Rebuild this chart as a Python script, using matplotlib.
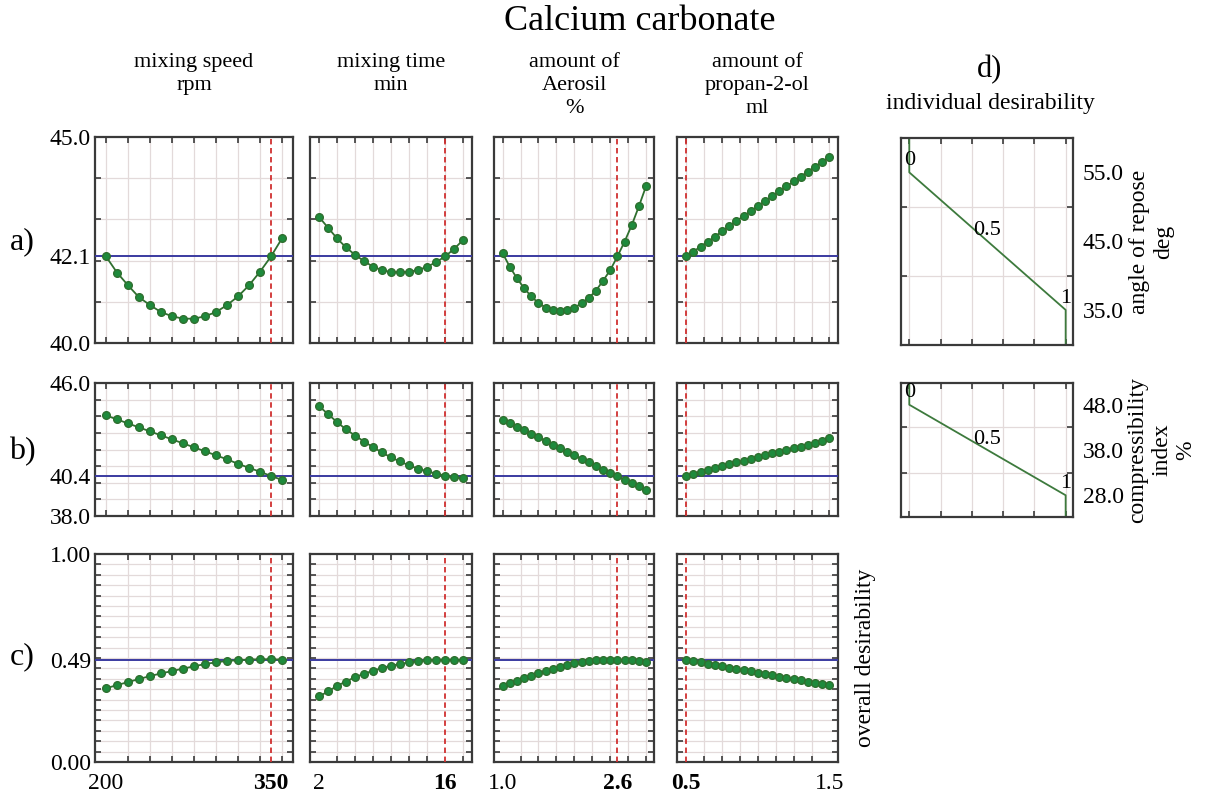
import matplotlib.pyplot as plt
import numpy as np

plt.rcParams['font.family'] = ['Liberation Serif', 'DejaVu Serif']

# factor levels
speed = [200, 210, 220, 230, 240, 250, 260, 270, 280, 290, 300, 310, 320, 330, 340, 350, 360]
time_min = [2, 3, 4, 5, 6, 7, 8, 9, 10, 11, 12, 13, 14, 15, 16, 17, 18]
aerosil = [1.0, 1.1, 1.2, 1.3, 1.4, 1.5, 1.6, 1.7, 1.8, 1.9, 2.0,
           2.1, 2.2, 2.3, 2.4, 2.5, 2.6, 2.7, 2.8, 2.9, 3.0]
propanol = [0.5, 0.55, 0.6, 0.65, 0.7, 0.75, 0.8, 0.85, 0.9, 0.95, 1.0,
            1.05, 1.1, 1.15, 1.2, 1.25, 1.3, 1.35, 1.4, 1.45, 1.5]

# a) angle of repose
angle_speed = [42.10, 41.71, 41.40, 41.11, 40.92, 40.75, 40.65, 40.59, 40.59,
               40.65, 40.75, 40.92, 41.13, 41.40, 41.73, 42.10, 42.54]
angle_time = [43.06, 42.80, 42.54, 42.32, 42.14, 41.99, 41.85, 41.77, 41.72,
              41.72, 41.73, 41.77, 41.85, 41.96, 42.10, 42.28, 42.50]
angle_aerosil = [42.18, 41.85, 41.57, 41.33, 41.13, 40.97, 40.86, 40.79, 40.77,
                 40.79, 40.85, 40.97, 41.09, 41.27, 41.51, 41.77, 42.10, 42.46,
                 42.86, 43.32, 43.81]
angle_propanol = [42.10, 42.22, 42.34, 42.46, 42.58, 42.71, 42.83, 42.96, 43.08,
                  43.20, 43.32, 43.44, 43.56, 43.68, 43.80, 43.92, 44.04, 44.16,
                  44.28, 44.40, 44.52]

# b) compressibility index
comp_speed = [44.05, 43.81, 43.57, 43.33, 43.09, 42.85, 42.61, 42.37, 42.13,
              41.89, 41.65, 41.41, 41.14, 40.90, 40.66, 40.41, 40.17]
comp_time = [44.61, 44.13, 43.65, 43.21, 42.84, 42.48, 42.14, 41.82, 41.52,
             41.28, 41.04, 40.85, 40.69, 40.55, 40.43, 40.33, 40.27]
comp_aerosil = [43.77, 43.57, 43.37, 43.17, 42.96, 42.74, 42.52, 42.30, 42.08,
                41.86, 41.64, 41.44, 41.22, 41.00, 40.79, 40.59, 40.39, 40.19,
                39.99, 39.79, 39.57]
comp_propanol = [40.43, 40.55, 40.67, 40.77, 40.89, 40.99, 41.10, 41.22, 41.32,
                 41.42, 41.54, 41.66, 41.76, 41.86, 41.98, 42.08, 42.18, 42.30,
                 42.40, 42.52, 42.68]

# c) overall desirability
des_speed = [0.354, 0.370, 0.384, 0.399, 0.413, 0.426, 0.437, 0.449, 0.460,
             0.471, 0.479, 0.486, 0.489, 0.492, 0.494, 0.494, 0.492]
des_time = [0.315, 0.339, 0.366, 0.387, 0.408, 0.424, 0.439, 0.452, 0.463,
            0.471, 0.479, 0.484, 0.489, 0.492, 0.492, 0.492, 0.490]
des_aerosil = [0.365, 0.378, 0.391, 0.402, 0.415, 0.426, 0.437, 0.449, 0.458,
               0.466, 0.474, 0.481, 0.486, 0.489, 0.490, 0.492, 0.492, 0.490,
               0.489, 0.486, 0.481]
des_propanol = [0.492, 0.486, 0.479, 0.473, 0.466, 0.460, 0.453, 0.447, 0.441,
                0.436, 0.429, 0.423, 0.416, 0.410, 0.405, 0.399, 0.392, 0.386,
                0.381, 0.375, 0.370]

# optimum settings / predicted values
optimum = [350, 16, 2.6, 0.5]
predicted = [42.1, 40.4, 0.492]

col_titles = ['mixing speed\nrpm', 'mixing time\nmin', 'amount of\nAerosil\n%',
              'amount of\npropan-2-ol\nml']
xlevels = [speed, time_min, aerosil, propanol]
xlims = [(190, 370), (1, 19), (0.88, 3.11), (0.435, 1.56)]
xgrids = [np.arange(200, 361, 20), np.arange(2, 19, 2),
          np.arange(1.0, 3.01, 0.25), np.arange(0.5, 1.51, 0.125)]
xticklabels = [([200, 350], ['200', '350']), ([2, 16], ['2', '16']),
               ([1.0, 2.6], ['1.0', '2.6']), ([0.5, 1.5], ['0.5', '1.5'])]
bold_idx = [1, 1, 1, 0]

rows = [[angle_speed, angle_time, angle_aerosil, angle_propanol],
        [comp_speed, comp_time, comp_aerosil, comp_propanol],
        [des_speed, des_time, des_aerosil, des_propanol]]
ylims = [(40.0, 45.0), (38.0, 46.0), (0.0, 1.0)]
ygrids = [np.arange(41, 45, 1), np.arange(39, 46, 1), np.arange(0.05, 1.0, 0.05)]
yticks = [([40.0, 42.1, 45.0], ['40.0', '42.1', '45.0']),
          ([38.0, 40.4, 46.0], ['38.0', '40.4', '46.0']),
          ([0.0, 0.492, 1.0], ['0.00', '0.49', '1.00'])]
row_names = ['a)', 'b)', 'c)']

W, H = 1218, 798
def box(x0, x1, y0, y1):
    return [x0 / W, 1 - y1 / H, (x1 - x0) / W, (y1 - y0) / H]

col_px = [(95, 293), (310, 472), (494, 654), (677, 838)]
row_px = [(137, 343), (383, 516), (554, 762)]

grid_color = '#e3dada'
frame_color = '#3a3a3a'
line_green = '#2f6f2f'
dot_green = '#1e8a3c'
tick_fs = 17

def style_axes(ax):
    for s in ax.spines.values():
        s.set_color(frame_color)
        s.set_linewidth(1.6)
    ax.grid(which='minor', color=grid_color, linewidth=0.9)
    ax.grid(which='major', visible=False)
    ax.tick_params(which='minor', direction='in', length=4, width=1.2,
                   color=frame_color, top=True, right=True, bottom=True, left=True)
    ax.tick_params(which='major', length=0, labelsize=tick_fs)
    ax.set_axisbelow(True)

fig = plt.figure(figsize=(12.18, 7.98), dpi=100)

for r in range(3):
    for c in range(4):
        ax = fig.add_axes(box(col_px[c][0], col_px[c][1], row_px[r][0], row_px[r][1]))
        ax.plot(xlevels[c], rows[r][c], '-o', color=line_green, lw=1.3,
                markersize=5.5, markerfacecolor=dot_green, markeredgecolor=line_green,
                zorder=4)
        ax.axhline(predicted[r], color='#3a3aa0', lw=1.4, zorder=3)
        ax.axvline(optimum[c], color='#d03030', lw=1.3, ls=(0, (3, 2)), zorder=3)
        ax.set_xlim(xlims[c])
        ax.set_ylim(ylims[r])
        style_axes(ax)
        if c == 0:
            ax.set_yticks(yticks[r][0], yticks[r][1])
            ax.tick_params(axis='y', which='major', pad=3)
        else:
            ax.set_yticks([])
        if r == 2:
            ax.set_xticks(xticklabels[c][0], xticklabels[c][1])
            ax.tick_params(axis='x', which='major', pad=8)
            ax.get_xticklabels()[bold_idx[c]].set_fontweight('bold')
        else:
            ax.set_xticks([])
        ax.set_xticks(xgrids[c], minor=True)
        ax.set_yticks(ygrids[r], minor=True)

# d) individual desirability
d_resp = [[60, 55, 35, 30], [53, 48, 28, 23]]
d_val = [0, 0, 1, 1]
d_ylims = [(29.9, 60.0), (23.2, 52.8)]
d_grids = [[35, 40, 45, 50, 55], [28, 33, 38, 43, 48]]
d_ticks = [[35, 45, 55], [28, 38, 48]]
d_text_y = [(56.8, 46.6, 36.7), (50.6, 40.4, 30.6)]
d_px = [(138, 345), (383, 517)]
d_names = ['angle of repose\ndeg', 'compressibility\nindex\n%']
d_name_x = [1152, 1162]

for i in range(2):
    ax = fig.add_axes(box(901, 1073, d_px[i][0], d_px[i][1]))
    ax.plot(d_val, d_resp[i], color='#3d7a3d', lw=1.3)
    ax.set_xlim(-0.053, 1.047)
    ax.set_ylim(d_ylims[i])
    style_axes(ax)
    ax.set_xticks([])
    ax.set_yticks(d_ticks[i], ['%.1f' % v for v in d_ticks[i]])
    ax.yaxis.tick_right()
    ax.tick_params(axis='y', which='major', pad=7, length=0)
    ax.tick_params(which='minor', direction='in', left=True, right=True)
    ax.set_xticks([0, 0.2, 0.4, 0.6, 0.8, 1.0], minor=True)
    ax.set_yticks(d_grids[i], minor=True)
    for xv, yv, s in zip([0.0, 0.5, 1.0], d_text_y[i], ['0', '0.5', '1']):
        ax.text(xv, yv, s, fontsize=16, ha='center', va='center', zorder=5)
    fig.text(d_name_x[i] / W, 1 - (d_px[i][0] + d_px[i][1]) / 2 / H, d_names[i],
             rotation=90, ha='center', va='center', fontsize=17, linespacing=1.2)

# titles and labels
fig.text(640 / W, 1 - 22 / H, 'Calcium carbonate', ha='center', va='center', fontsize=26)
for c in range(4):
    xc = (col_px[c][0] + col_px[c][1]) / 2
    fig.text(xc / W, 1 - 53 / H, col_titles[c], ha='center', va='top',
             fontsize=16, linespacing=1.3)
fig.text(990 / W, 1 - 70 / H, 'd)', ha='center', va='center', fontsize=22)
fig.text(990 / W, 1 - 103 / H, 'individual desirability', ha='center', va='center', fontsize=17)
for r in range(2):
    yc = (row_px[r][0] + row_px[r][1]) / 2
    fig.text(22 / W, 1 - (yc + 2) / H, row_names[r], ha='center', va='center', fontsize=23)
fig.text(22 / W, 1 - 657 / H, row_names[2], ha='center', va='center', fontsize=23)
fig.text(866 / W, 1 - 658 / H, 'overall desirability', rotation=90,
         ha='center', va='center', fontsize=17)

fig.savefig('out.png', dpi=100)
